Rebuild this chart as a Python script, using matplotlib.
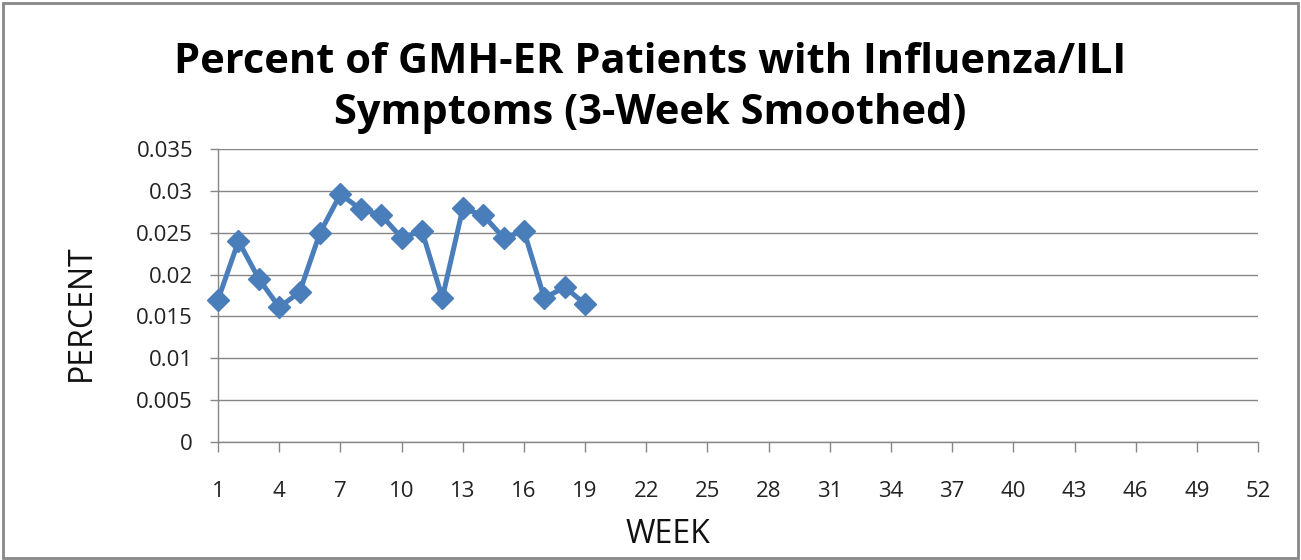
import matplotlib
matplotlib.use("Agg")
import matplotlib.pyplot as plt
from matplotlib.patches import Rectangle

# 数据
weeks = list(range(1, 20))
percent = [0.0170, 0.0240, 0.0195, 0.0161, 0.0179, 0.0250, 0.0296, 0.0278,
           0.0271, 0.0244, 0.0252, 0.0172, 0.0279, 0.0271, 0.0244, 0.0252,
           0.0172, 0.0185, 0.0165]
xticks = list(range(1, 53, 3))
yticks = [0, 0.005, 0.01, 0.015, 0.02, 0.025, 0.03, 0.035]
ytick_labels = ['0', '0.005', '0.01', '0.015', '0.02', '0.025', '0.03', '0.035']

title = 'Percent of GMH-ER Patients with Influenza/ILI\nSymptoms (3-Week Smoothed)'

plt.rcParams['font.family'] = ['Open Sans', 'DejaVu Sans']

fig = plt.figure(figsize=(13.01, 5.6), dpi=100)
ax = fig.add_axes([0.1676, 0.2107, 0.7994, 0.5232])

ax.plot(weeks, percent, color='#4A7EBB', linewidth=3.6, marker='D',
        markersize=11, markerfacecolor='#4A7EBB', markeredgecolor='#4A7EBB',
        zorder=3, clip_on=False)

ax.set_xlim(1, 52)
ax.set_ylim(0, 0.035)
ax.set_xticks(xticks)
ax.set_yticks(yticks)
ax.set_yticklabels(ytick_labels)
ax.grid(axis='y', color='#868686', linewidth=1)
ax.set_axisbelow(True)

for s in ['top', 'right']:
    ax.spines[s].set_visible(False)
for s in ['left', 'bottom']:
    ax.spines[s].set_color('#868686')
    ax.spines[s].set_linewidth(1)

ax.tick_params(axis='both', colors='#868686', labelcolor='#222222',
               labelsize=16, width=1)
ax.tick_params(axis='y', length=6, pad=12)
ax.tick_params(axis='x', length=7, pad=21)

ax.set_xlabel('WEEK', fontsize=23, color='#111111')
ax.set_ylabel('PERCENT', fontsize=23, color='#111111')
ax.xaxis.set_label_coords(0.433, -0.26)
ax.yaxis.set_label_coords(-0.116, 0.44)

fig.text(0.5, 0.843, title, ha='center', va='center', fontsize=30,
         fontweight='bold', linespacing=1.3, color='black')

# 图表外框
fig.patches.append(Rectangle((0.002, 0.004), 0.996, 0.99, transform=fig.transFigure,
                             fill=False, edgecolor='#888888', linewidth=2))

fig.savefig('out.png', dpi=100)
